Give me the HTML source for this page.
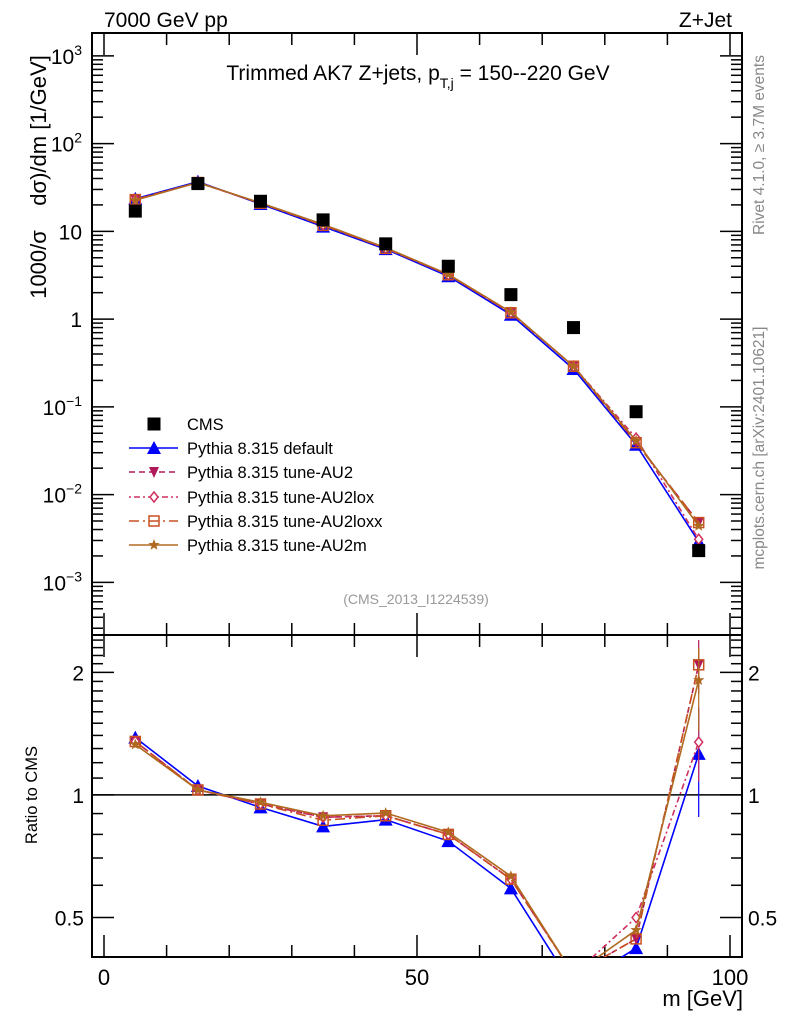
<!DOCTYPE html>
<html><head><meta charset="utf-8"><style>
html,body{margin:0;padding:0;background:#fff;}
svg{display:block;font-family:"Liberation Sans",sans-serif;}
</style></head><body>
<svg id="chart" width="786" height="1024" viewBox="0 0 786 1024" xmlns="http://www.w3.org/2000/svg">
<g id="main-plot"></g>
<g id="ratio-plot"></g>
<text x="104" y="27" font-size="21">7000 GeV pp</text>
<text x="732" y="27" font-size="21" text-anchor="end">Z+Jet</text>
<text x="418" y="80" font-size="21" text-anchor="middle">Trimmed AK7 Z+jets, p<tspan font-size="14" dy="8">T,j</tspan><tspan dy="-8"> = 150--220 GeV</tspan></text>
<text transform="translate(46,177) rotate(-90)" font-size="22" text-anchor="middle" xml:space="preserve">1000/σ    dσ)/dm [1/GeV]</text>
<text transform="translate(37,795) rotate(-90)" font-size="16.5" text-anchor="middle">Ratio to CMS</text>
<text x="743" y="1006" font-size="22" text-anchor="end">m [GeV]</text>
<text transform="translate(764,145) rotate(-90)" font-size="15.5" fill="#888" text-anchor="middle">Rivet 4.1.0, ≥ 3.7M events</text>
<text transform="translate(764,448) rotate(-90)" font-size="15.5" fill="#888" text-anchor="middle">mcplots.cern.ch [arXiv:2401.10621]</text>
<text x="416" y="604" font-size="14" fill="#999" text-anchor="middle">(CMS_2013_I1224539)</text>
</svg>
<script>
const xCenters=[5,15,25,35,45,55,65,75,85,95];
const cmsValues=[17,35,22,13.5,7.2,4.0,1.9,0.8,0.088,0.0023];
const mcDefault=[23.5,36.8,20.5,11.3,6.26,3.08,1.12,0.27,0.037,0.0029];
const mcAU2=[23,36,20.9,11.9,6.4,3.2,1.18,0.29,0.039,0.0048];
const mcAU2lox=[23,36,20.9,11.9,6.4,3.2,1.18,0.29,0.044,0.0031];
const mcAU2loxx=[23,36,20.9,11.7,6.4,3.2,1.18,0.29,0.039,0.0048];
const mcAU2m=[22.6,36,21.1,12.0,6.5,3.24,1.2,0.29,0.041,0.0044];
const legendLabels=["CMS","Pythia 8.315 default","Pythia 8.315 tune-AU2","Pythia 8.315 tune-AU2lox","Pythia 8.315 tune-AU2loxx","Pythia 8.315 tune-AU2m"];
const xTickLabels=[0,50,100];
const yTickExps=[-3,-2,-1,0,1,2,3];
const ratioTickLabels=[0.5,1,2];

const NS="http://www.w3.org/2000/svg";
const L=92,R=742,T=33,MB=635,RB=957;
const X0=104,X100=730;
const sx=v=>X0+(X100-X0)*v/100;
const LOGTOP=3.26,LOGBOT=-3.6;
const sy=v=>T+(LOGTOP-Math.log10(v))/(LOGTOP-LOGBOT)*(MB-T);
const RTOP=Math.log10(2.47),RBOT=Math.log10(0.40);
const sr=v=>MB+(RTOP-Math.log10(v))/(RTOP-RBOT)*(RB-MB);
const mainG=document.getElementById('main-plot');
const ratioG=document.getElementById('ratio-plot');
function mk(tag,attrs,parent){const e=document.createElementNS(NS,tag);for(const k in attrs)e.setAttribute(k,attrs[k]);parent.appendChild(e);return e;}

const defs=mk('defs',{},document.getElementById('chart'));
const c1=mk('clipPath',{id:'clipMain'},defs);mk('rect',{x:L,y:T,width:R-L,height:MB-T},c1);
const c2=mk('clipPath',{id:'clipRatio'},defs);mk('rect',{x:L,y:MB,width:R-L,height:RB-MB},c2);

const f1=mk('rect',{x:L,y:T,width:R-L,height:MB-T,fill:'none',stroke:'#000','stroke-width':2},mainG);


const f2=mk('rect',{x:L,y:MB,width:R-L,height:RB-MB,fill:'none',stroke:'#000','stroke-width':2},ratioG);



for(let v=0;v<=100;v+=10){
  const x=sx(v);const big=(v%50===0);const len=big?22:12;
  mk('line',{x1:x,y1:T,x2:x,y2:T+len,stroke:'#000','stroke-width':1.5},mainG);
  mk('line',{x1:x,y1:MB,x2:x,y2:MB-len,stroke:'#000','stroke-width':1.5},mainG);
  mk('line',{x1:x,y1:MB,x2:x,y2:MB+len,stroke:'#000','stroke-width':1.5},ratioG);
  mk('line',{x1:x,y1:RB,x2:x,y2:RB-len,stroke:'#000','stroke-width':1.5},ratioG);
}
xTickLabels.forEach(v=>{
  const t=mk('text',{x:sx(v),y:RB+28,'font-size':22,'text-anchor':'middle'},ratioG);
  
  
  t.textContent=v;
});
for(let e=-4;e<=3;e++){for(let m=1;m<10;m++){
  const v=m*Math.pow(10,e);const lv=Math.log10(v);if(lv>LOGTOP||lv<LOGBOT)continue;
  const y=sy(v);const len=m===1?22:11;
  mk('line',{x1:L,y1:y,x2:L+len,y2:y,stroke:'#000','stroke-width':1.5},mainG);
  mk('line',{x1:R,y1:y,x2:R-len,y2:y,stroke:'#000','stroke-width':1.5},mainG);
}}
yTickExps.forEach(e=>{
  const y=sy(Math.pow(10,e));
  const t=mk('text',{x:82,y:y+8,'font-size':21,'text-anchor':'end'},mainG);
  
  
  if(e===0)t.textContent='1';else if(e===1)t.textContent='10';
  else{t.textContent='10';const s=mk('tspan',{dy:-9,'font-size':14},t);s.textContent=String(e).replace('-','−');}
});
for(let k=4;k<=24;k++){
  const v=k/10;
  const y=sr(v);const big=(k===5||k===10||k===20);const len=big?22:11;
  mk('line',{x1:L,y1:y,x2:L+len,y2:y,stroke:'#000','stroke-width':1.5},ratioG);
  mk('line',{x1:R,y1:y,x2:R-len,y2:y,stroke:'#000','stroke-width':1.5},ratioG);
}
ratioTickLabels.forEach(v=>{
  const y=sr(v);
  const t=mk('text',{x:84,y:y+8,'font-size':21,'text-anchor':'end'},ratioG);
  
  
  t.textContent=v;
  const t2=mk('text',{x:748,y:y+8,'font-size':21},ratioG);
  
  
  t2.textContent=v;
});
const one=mk('line',{x1:L,y1:sr(1),x2:R,y2:sr(1),stroke:'#000','stroke-width':1.5},ratioG);



function marker(g,type,x,y,col){
  if(type==='sq')return mk('rect',{x:x-6.5,y:y-6.5,width:13,height:13,fill:'#000'},g);
  if(type==='tri')return mk('path',{d:`M${x},${y-7}L${x+7},${y+6}L${x-7},${y+6}Z`,fill:col},g);
  if(type==='itri')return mk('path',{d:`M${x},${y+6}L${x+5},${y-5}L${x-5},${y-5}Z`,fill:col},g);
  if(type==='dia')return mk('path',{d:`M${x},${y-5}L${x+4},${y}L${x},${y+5}L${x-4},${y}Z`,fill:'#fff',stroke:col,'stroke-width':1.5},g);
  if(type==='osq')return mk('rect',{x:x-5,y:y-5,width:10,height:10,fill:'none',stroke:col,'stroke-width':1.5},g);
  if(type==='star'){let d='';for(let i=0;i<10;i++){const r=i%2?2.5:6;const a=-Math.PI/2+i*Math.PI/5;d+=(i?'L':'M')+(x+r*Math.cos(a)).toFixed(1)+','+(y+r*Math.sin(a)).toFixed(1);}return mk('path',{d:d+'Z',fill:col},g);}
}
const series=[
 {name:'default',vals:mcDefault,col:'#0000ff',dash:'',m:'tri',err:[1.3,0.7]},
 {name:'au2',vals:mcAU2,col:'#b0185a',dash:'6,4',m:'itri',err:[1.15,0.85]},
 {name:'au2lox',vals:mcAU2lox,col:'#d0305e',dash:'2,3,6,3',m:'dia',err:[1.2,0.8]},
 {name:'au2loxx',vals:mcAU2loxx,col:'#c85020',dash:'10,4,2,4',m:'osq',err:[1.1,0.9]},
 {name:'au2m',vals:mcAU2m,col:'#b06a20',dash:'',m:'star',err:[1.2,0.75]}
];
const mg=mk('g',{'clip-path':'url(#clipMain)'},mainG);
const rg=mk('g',{'clip-path':'url(#clipRatio)'},ratioG);
series.forEach(s=>{
  const g=mk('g',{},mg);
  
  
  const pts=s.vals.map((v,i)=>sx(xCenters[i])+','+sy(v)).join(' ');
  mk('polyline',{points:pts,fill:'none',stroke:s.col,'stroke-width':1.6,'stroke-dasharray':s.dash},g);
  s.vals.forEach((v,i)=>marker(g,s.m,sx(xCenters[i]),sy(v),s.col));
  const g2=mk('g',{},rg);
  
  
  const rp=s.vals.map((v,i)=>sx(xCenters[i])+','+sr(v/cmsValues[i])).join(' ');
  mk('polyline',{points:rp,fill:'none',stroke:s.col,'stroke-width':1.6,'stroke-dasharray':s.dash},g2);
  s.vals.forEach((v,i)=>{
    const r=v/cmsValues[i];const x=sx(xCenters[i]);
    if(i===9){mk('line',{x1:x,y1:sr(r*s.err[0]),x2:x,y2:sr(r*s.err[1]),stroke:s.col,'stroke-width':1.2},g2);}
    marker(g2,s.m,x,sr(r),s.col);
  });
});
const cg=mk('g',{},mg);


cmsValues.forEach((v,i)=>marker(cg,'sq',sx(xCenters[i]),sy(v)));

const lg=mk('g',{},mainG);


const ly=[424,448,472,497,521,545];
legendLabels.forEach((lab,i)=>{
  const e=mk('g',{},lg);
  
  
  if(i===0)marker(e,'sq',154,ly[i]);
  else{const s=series[i-1];mk('line',{x1:129,y1:ly[i],x2:178,y2:ly[i],stroke:s.col,'stroke-width':1.6,'stroke-dasharray':s.dash},e);marker(e,s.m,154,ly[i],s.col);}
  const t=mk('text',{x:187,y:ly[i]+6,'font-size':16.5},e);t.textContent=lab;
});
</script>
</body></html>
